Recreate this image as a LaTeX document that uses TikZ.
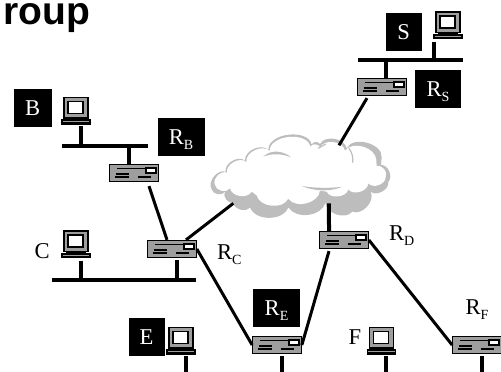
\documentclass[tikz,border=0pt]{standalone}
\usepackage{fontspec}
\setmainfont{Liberation Serif}
\newfontfamily\titlefont{Liberation Sans}
\usetikzlibrary{positioning}
\definecolor{boxgray}{gray}{0.62}
\definecolor{cloudgray}{gray}{0.74}
\newcommand{\rlab}[1]{R\raisebox{-5pt}[0pt][0pt]{\fontsize{14}{14}\selectfont #1}}
\tikzset{
	hostbox/.style={minimum width=30pt, minimum height=28pt, inner sep=0pt, path picture={
		\begin{scope}[shift={(path picture bounding box.center)}]
			\draw [fill=boxgray, line width=1.2pt] (-12,13.5) rectangle (12,-7);
			\draw [fill=white, line width=1.2pt] (-8,9.5) rectangle (7,-2.5);
			\fill (-10,-7) rectangle (10,-9);
			\fill (-15,-8.5) rectangle (14.5,-14);
			\fill [boxgray] (-13.5,-10.5) rectangle (13,-11.5);
		\end{scope}}},
	routerbox/.style={draw, fill=boxgray, line width=1.2pt, minimum width=48.5pt, minimum height=17pt, inner sep=0pt, path picture={
		\begin{scope}[shift={(path picture bounding box.center)}]
			\draw [line width=1.1pt] (-17,4.5) -- (12,4.5);
			\draw [fill=white, line width=1.1pt] (12,5) rectangle (22,0);
			\draw [line width=1.1pt] (-18,-1) -- (-5,-1);
			\draw [line width=1.1pt] (-19,-4) -- (-5,-4);
			\draw [line width=1.1pt] (4,-4) -- (17,-4);
		\end{scope}}},
	blackbox/.style={fill=black, text=white, minimum width=36pt, minimum height=38pt, inner sep=0pt, font=\fontsize{22.6}{24}\selectfont},
	tag/.style={inner sep=0pt, font=\fontsize{22.6}{24}\selectfont},
	busline/.style={line width=4pt},
	stemline/.style={line width=4pt},
	linkline/.style={line width=3pt}
}
\begin{document}
\begin{tikzpicture}[x=1pt, y=1pt]
	\useasboundingbox (0,0) rectangle (501,372);
	
	\node [anchor=base west, inner sep=0pt, font=\titlefont\bfseries\fontsize{39}{40}\selectfont] (title) at (3.5,347) {roup};
	
	% cloud
	\begin{scope}[shift={(205,252)}, x=0.3333pt, y=-0.3333pt, every to/.style={bend left=70}]
		\fill [cloudgray] (20,208) to (62,155) to (120,122) to (190,90) to[bend left=85] (320,74) to (345,72) to (425,85) to[bend left=80] (530,112)
			-- (528,135) to (550,185) to (497,215) to (442,275) to (362,248) to[bend left=65] (250,262) to (135,262) to (85,248) to (60,215) to (20,208) -- cycle;
		\fill [white] (30,195) to (66,158) to (124,126) to (194,93) to[bend left=85] (316,80) to (345,82) to (420,92) to[bend left=70] (514,120)
			-- (515,138) to (542,172) to (490,190) to (430,208) to (365,215) -- (345,212) to (250,236) to (155,226) -- (140,215) to (75,205) to (30,195) -- cycle;
		\fill [cloudgray] (290,198) .. controls (330,215) and (380,215) .. (412,200) .. controls (380,205) and (330,205) .. (290,198) -- cycle;
		\fill [cloudgray] (175,110) .. controls (200,85) and (240,95) .. (258,112) .. controls (230,100) and (200,100) .. (175,110) -- cycle;
		\draw [cloudgray, line width=1.2pt] (432,85) .. controls (443,100) and (445,115) .. (443,128);
		\draw [cloudgray, line width=1.2pt] (340,85) -- (362,72);
		\coordinate (cloudsw) at (85,250);
		\coordinate (cloudn) at (402,76);
		\coordinate (clouds) at (372,250);
	\end{scope}
	
	\node [routerbox] (rb) at (134,199) {};
	\node [routerbox] (rs) at (382,285) {};
	\node [routerbox] (rc) at (172,123) {};
	\node [routerbox] (rd) at (344,132) {};
	\node [routerbox] (re) at (277,27) {};
	\node [routerbox] (rf) at (477,27) {};
	
	\node [hostbox] (b) at (76,261) {};
	\node [hostbox] (c) at (76,127.5) {};
	\node [hostbox] (e) at (181,31) {};
	\node [hostbox] (f) at (381.5,31) {};
	\node [hostbox] (s) at (448,346.5) {};
	
	\node [blackbox, minimum width=38pt] (lb) [left=9pt of b, yshift=3pt] {B};
	\node [blackbox] (ls) [left=11pt of s, yshift=-6.5pt] {S};
	\node [blackbox] (le) [left=1pt of e, yshift=4pt] {E};
	\node [blackbox, minimum width=47pt] (lrb) at (181,235) {\rlab{B}};
	\node [blackbox, minimum width=46pt] (lrs) at (438,283) {\rlab{S}};
	\node [blackbox, minimum width=47pt] (lre) at (276.5,64) {\rlab{E}};
	
	\node [tag] (lc) [left=11pt of c, yshift=-7pt] {C};
	\node [tag] (lf) [left=5pt of f, yshift=4pt] {F};
	\node [tag] (lrc) [right=20pt of rc, yshift=-3pt] {\rlab{C}};
	\node [tag] (lrd) [right=20pt of rd, yshift=7pt] {\rlab{D}};
	\node [tag] (lrf) [above=21pt of rf] {\rlab{F}};
	
	% lans
	\coordinate (bl) at (62,226);
	\coordinate (br) at (148,226);
	\coordinate (cl) at (52,92);
	\coordinate (cr) at (196,92);
	\coordinate (sl) at (358,312);
	\coordinate (sr) at (463,312);
	\coordinate (bottom) at (0,0);
	\draw [busline] (bl) -- (br);
	\draw [busline] (cl) -- (cr);
	\draw [busline] (sl) -- (sr);
	
	\draw [stemline] ([xshift=5pt,yshift=-1pt]b.south) -- ([xshift=5pt]b.south |- bl);
	\draw [stemline] ([xshift=-5pt]rb.north) -- ([xshift=-5pt]rb.north |- bl);
	\draw [stemline] ([xshift=5pt,yshift=-2pt]c.south) -- ([xshift=5pt]c.south |- cl);
	\draw [stemline] ([xshift=5pt,yshift=-2pt]rc.south) -- ([xshift=5pt]rc.south |- cl);
	\draw [stemline] ([xshift=-14.5pt,yshift=-2pt]s.south) -- ([xshift=-14.5pt]s.south |- sl);
	\draw [stemline] ([xshift=4pt]rs.north) -- ([xshift=4pt]rs.north |- sl);
	\draw [stemline] ([xshift=5pt,yshift=-1pt]e.south) -- ([xshift=5pt]e.south |- bottom);
	\draw [stemline] ([xshift=4.5pt,yshift=-1pt]f.south) -- ([xshift=4.5pt]f.south |- bottom);
	\draw [stemline] ([xshift=5pt,yshift=-2pt]re.south) -- ([xshift=5pt]re.south |- bottom);
	\draw [stemline] ([xshift=5pt,yshift=-2pt]rf.south) -- ([xshift=5pt]rf.south |- bottom);
	
	\draw [linkline] ([xshift=15pt,yshift=-4pt]rb.south) -- ([xshift=-5pt]rc.north);
	\draw [linkline] ([xshift=14pt]rc.north) -- (cloudsw);
	\draw [linkline] (rc.east) -- (re.west);
	\draw [linkline] ([xshift=-15pt,yshift=-2pt]rs.south) -- (cloudn);
	\draw [stemline] ([xshift=-15pt]rd.north) -- (clouds);
	\draw [linkline] ([xshift=-15pt,yshift=-2pt]rd.south) -- (re.east);
	\draw [linkline] (rd.east) -- (rf.west);
\end{tikzpicture}
\end{document}
